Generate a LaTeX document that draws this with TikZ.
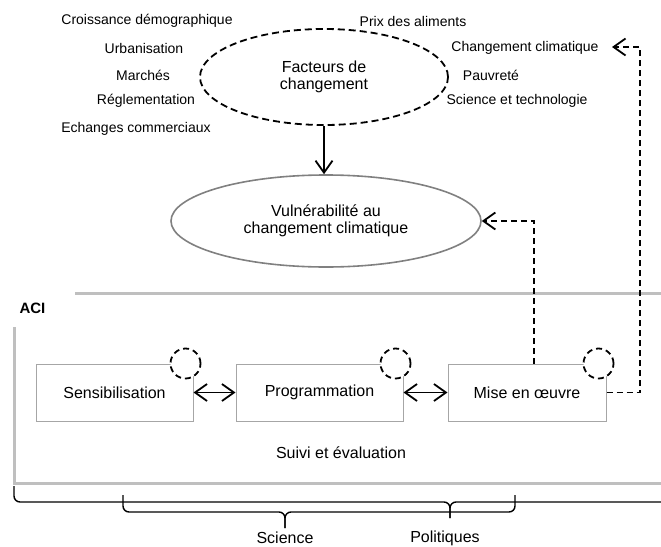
\documentclass[tikz,border=0pt]{standalone}
\usepackage{fontspec}
\setmainfont{Liberation Sans}
\usetikzlibrary{arrows.meta,positioning,calc,shapes.geometric}

\begin{document}
\begin{tikzpicture}[x=1pt,y=-1pt]
\tikzset{driver/.style={font=\fontsize{14}{16}\selectfont}}
\tikzset{bigtext/.style={font=\fontsize{16}{17}\selectfont,align=center}}
\tikzset{stage/.style={draw=black!35,line width=1pt,fill=white,minimum height=57pt,bigtext}}
\tikzset{dashcircle/.style={circle,draw,line width=1.8pt,dash pattern=on 6pt off 4pt,fill=white,minimum size=30pt,inner sep=0pt}}
\tikzset{frame/.style={draw=black!25,line width=3pt}}
\tikzset{barb/.style={line width=1.8pt,-{Straight Barb[length=12pt,width=17pt,line width=1.8pt]}}}
\tikzset{twobarb/.style={line width=1.8pt,{Straight Barb[length=12pt,width=17pt,line width=1.8pt]}-{Straight Barb[length=12pt,width=17pt,line width=1.8pt]}}}
\tikzset{brace/.style={line width=1.4pt,rounded corners=6pt}}
\useasboundingbox (0,0) rectangle (661,546);

\node[ellipse,draw,line width=1.8pt,dash pattern=on 7pt off 4pt,minimum width=248pt,minimum height=96pt,bigtext] (fac) at (324,77) {Facteurs de\\changement};
\node[ellipse,draw=black!50,line width=1.6pt,minimum width=310pt,minimum height=92pt,bigtext] (vul) at (326,221) {Vuln\'erabilit\'e au\\changement climatique};

\node[driver] (croi) at (147,21) {Croissance d\'emographique};
\node[driver] (urb) at (144,48) {Urbanisation};
\node[driver] (march) at (143,75) {March\'es};
\node[driver] (regl) at (146,101) {R\'eglementation};
\node[driver] (ech) at (136,129) {Echanges commerciaux};
\node[driver] (prix) at (413,21) {Prix des aliments};
\node[driver] (cc) at (525,48) {Changement climatique};
\node[driver] (pauv) at (491,75) {Pauvret\'e};
\node[driver] (sci) at (517,101) {Science et technologie};

\draw[frame] (75,293) -- (661,293);
\draw[frame] (14,327) |- (661,483);
\node[anchor=west,font=\fontsize{15}{17}\selectfont\bfseries] (aci) at (16,308) {ACI};

\node[stage,minimum width=157pt] (sens) at (114.5,392.5) {Sensibilisation};
\node[stage,minimum width=167pt] (prog) at (319.5,392.5) {Programmation};
\node[stage,minimum width=158pt] (mise) at (527,392.5) {Mise en \oe uvre};
\node[dashcircle] (csens) at ([xshift=-8pt]sens.north east) {};
\node[dashcircle] (cprog) at ([xshift=-8pt]prog.north east) {};
\node[dashcircle] (cmise) at ([xshift=-8pt]mise.north east) {};
\node[bigtext] (suivi) at (341,453) {Suivi et \'evaluation};

\draw[twobarb] (sens) -- (prog);
\draw[twobarb] (prog) -- (mise);
\draw[barb] (fac.south) -- (fac.south |- vul.north);
\draw[barb,dash pattern=on 6pt off 4pt] ([xshift=7pt]mise.north) |- (vul.east);
\coordinate (turn) at (640,47);
\coordinate (tip) at (612,47);
\draw[barb,dash pattern=on 6pt off 4pt] (mise.east) -| (turn) -- (tip);

\draw[brace] (14,486) |- (450,502) -- (450,518);
\draw[brace] (661,502) -- (450,502) -- (450,518);
\draw[brace] (123,495) |- (285,512) -- (285,528);
\draw[brace] (515,495) |- (285,512) -- (285,528);
\node[bigtext] (science) at (285,538) {Science};
\node[bigtext] (pol) at (445,538) {Politiques};
\end{tikzpicture}
\end{document}
